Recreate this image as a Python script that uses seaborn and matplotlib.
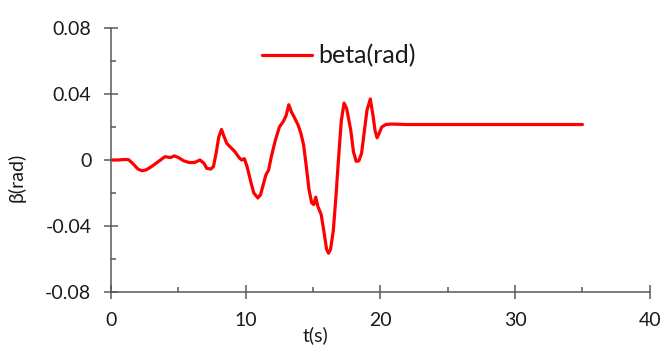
import matplotlib
matplotlib.use("Agg")
import matplotlib.pyplot as plt
from matplotlib.ticker import MultipleLocator
import seaborn as sns
import pandas as pd

# Sideslip angle time history
time_s = [0, 0.5, 1.0, 1.3, 1.6, 2.0, 2.3, 2.6, 3.0, 3.5, 4.0, 4.4, 4.7, 5.0,
          5.4, 5.8, 6.2, 6.6, 6.9, 7.1, 7.4, 7.6, 7.8, 8.0, 8.2, 8.4, 8.6,
          8.9, 9.2, 9.5, 9.7, 9.9, 10.1, 10.4, 10.6, 10.9, 11.1, 11.3, 11.5,
          11.7, 11.9, 12.2, 12.5, 12.8, 13.0, 13.2, 13.4, 13.6, 13.9, 14.1,
          14.3, 14.5, 14.7, 14.9, 15.05, 15.2, 15.35, 15.6, 15.8, 16.0, 16.15,
          16.3, 16.5, 16.7, 16.9, 17.1, 17.3, 17.5, 17.8, 18.0, 18.2, 18.4,
          18.6, 18.8, 19.0, 19.25, 19.45, 19.6, 19.75, 19.9, 20.1, 20.4, 20.8,
          22.0, 35.0]
beta_rad = [0.0, 0.0, 0.0003, 0.0002, -0.002, -0.0055, -0.0065, -0.006, -0.004,
            -0.001, 0.002, 0.0015, 0.0025, 0.0015, -0.0005, -0.0015, -0.0015,
            0.0, -0.002, -0.005, -0.0055, -0.004, 0.004, 0.014, 0.0185, 0.014,
            0.010, 0.0075, 0.005, 0.0015, 0.0, 0.0008, -0.004, -0.014, -0.020,
            -0.023, -0.021, -0.015, -0.009, -0.006, 0.002, 0.012, 0.020, 0.0235,
            0.027, 0.0335, 0.029, 0.026, 0.021, 0.016, 0.009, -0.004, -0.018,
            -0.026, -0.027, -0.0225, -0.028, -0.033, -0.043, -0.054, -0.0565,
            -0.054, -0.043, -0.022, 0.002, 0.024, 0.0345, 0.031, 0.018, 0.005,
            -0.0008, -0.0005, 0.004, 0.017, 0.030, 0.037, 0.027, 0.018, 0.0135,
            0.016, 0.020, 0.0215, 0.0218, 0.0215, 0.0215]

x_ticks = [0, 10, 20, 30, 40]
y_ticks = [-0.08, -0.04, 0.0, 0.04, 0.08]
y_tick_labels = ["-0.08", "-0.04", "0", "0.04", "0.08"]

sns.set_style("ticks")
plt.rcParams["font.family"] = ["Lato", "DejaVu Sans"]

df = pd.DataFrame({"t": time_s, "beta": beta_rad})

fig = plt.figure(figsize=(6.61, 3.45), dpi=100)
ax = fig.add_axes([0.168, 0.1536, 0.815, 0.7652])

sns.lineplot(data=df, x="t", y="beta", color="#ff0000", linewidth=2.3,
             label="beta(rad)", ax=ax)

ax.set_xlim(0, 40)
ax.set_ylim(-0.08, 0.08)
ax.set_xticks(x_ticks)
ax.set_xticklabels([str(v) for v in x_ticks])
ax.set_yticks(y_ticks)
ax.set_yticklabels(y_tick_labels)
ax.xaxis.set_minor_locator(MultipleLocator(5))
ax.yaxis.set_minor_locator(MultipleLocator(0.02))

spine_col = "#595959"
for side in ("top", "right"):
    ax.spines[side].set_visible(False)
for side in ("left", "bottom"):
    ax.spines[side].set_color(spine_col)
    ax.spines[side].set_linewidth(1.1)

ax.tick_params(axis="both", which="major", direction="inout", length=9.5,
               width=1.1, color=spine_col, labelsize=14, labelcolor="#1a1a1a")
ax.tick_params(axis="y", which="major", pad=9.5)
ax.tick_params(axis="x", which="major", pad=10)
ax.tick_params(axis="both", which="minor", direction="in", length=3.5,
               width=1.1, color=spine_col)

ax.set_xlabel("t(s)", fontsize=14, color="#1a1a1a")
ax.set_ylabel("β(rad)", fontsize=14, color="#1a1a1a")
ax.xaxis.set_label_coords(0.38, -0.128)
ax.yaxis.set_label_coords(-0.158, 0.436)

leg = ax.legend(loc="center left", bbox_to_anchor=(0.28, 0.894), frameon=False,
                fontsize=18, handlelength=2.0, handletextpad=0.25,
                borderpad=0, borderaxespad=0)
for txt in leg.get_texts():
    txt.set_color("#1a1a1a")

fig.savefig("out.png", dpi=100)
